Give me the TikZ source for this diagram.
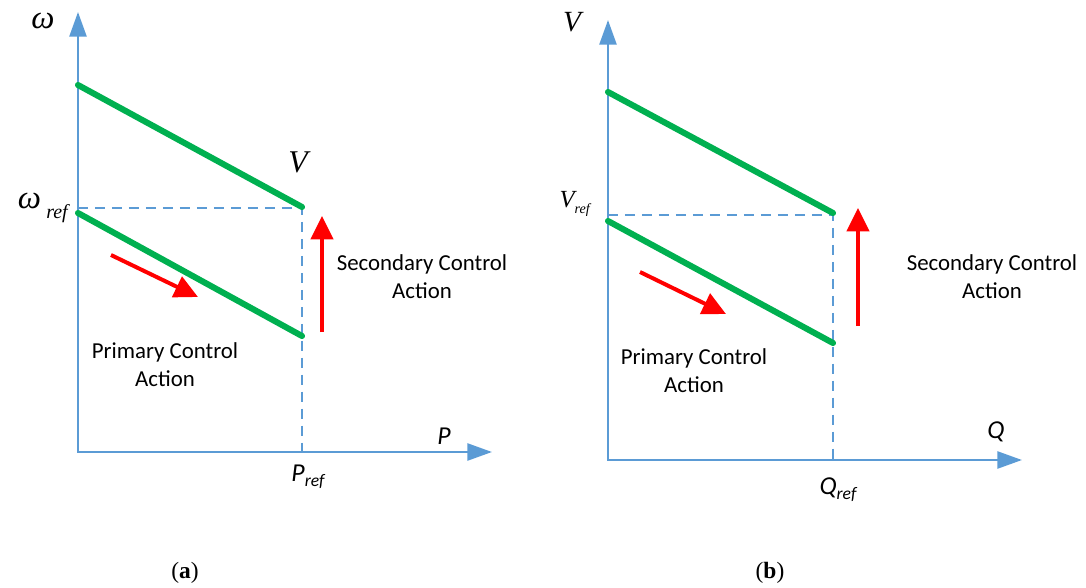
\documentclass[tikz,border=0pt]{standalone}
\usepackage{fontspec}
\setmainfont{Carlito}
\newfontfamily\serifit{Liberation Serif}
\definecolor{axisblue}{RGB}{91, 155, 213}
\definecolor{droopgreen}{RGB}{0, 176, 80}
\definecolor{actionred}{RGB}{255, 0, 0}
\usetikzlibrary{arrows.meta, positioning}

\tikzset{
    axisline/.style={draw=axisblue, line width=2.1pt, {Triangle[length=21pt, width=14.5pt]}-{Triangle[length=21pt, width=14.5pt]}},
    guide/.style={draw=axisblue, line width=1.6pt, dash pattern=on 8.5pt off 6pt},
    droop/.style={draw=droopgreen, line width=5.2pt, line cap=round},
    actionarrow/.style={draw=actionred, line width=3.4pt, -{Triangle[length=20pt, width=19pt]}},
    note/.style={font=\fontsize{19.5}{24}\selectfont, align=center},
    varlabel/.style={font=\fontsize{22}{24}\selectfont\itshape, inner sep=0pt},
    greeklabel/.style={font=\fontsize{28}{30}\selectfont\serifit\itshape, inner sep=0pt},
    caption/.style={font=\fontsize{20}{24}\selectfont\serifit},
}

\begin{document}
\begin{tikzpicture}[x=0.03cm, y=-0.03cm]
    \useasboundingbox (0,0) rectangle (1086,588);

    % (a) frequency droop
    \coordinate (wtop) at (78,12);
    \coordinate (pend) at (492,452);
    \coordinate (whigh) at (78,85);
    \coordinate (wlow) at (78,213);
    \coordinate (wref) at (78,208);
    \coordinate (aup) at (302,207);
    \coordinate (adown) at (302,336);
    \coordinate (aref) at (302,208);
    \coordinate (pref) at (302,452);
    \draw[axisline] (wtop) |- (pend);
    \draw[guide] (wref) -- (aref) -- (pref);
    \draw[droop] (whigh) -- (aup);
    \draw[droop] (wlow) -- (adown);
    \coordinate (aprimA) at (111,255);
    \coordinate (aprimB) at (198,297);
    \coordinate (asecA) at (322,332);
    \coordinate (asecB) at (322,216);
    \draw[actionarrow] (aprimA) -- (aprimB);
    \draw[actionarrow] (asecA) -- (asecB);

    \node[greeklabel] (lw) at (43,21) {ω};
    \node[greeklabel, anchor=east] (lwref) at (68,208) {ω\,\raisebox{-8pt}{\fontsize{17}{17}\selectfont ref}};
    \node[greeklabel, font=\fontsize{27}{28}\selectfont\serifit\itshape] (lva) at (298,162) {V};
    \node[varlabel] (lp) at (444,436) {P};
    \node[varlabel] (lpref) at (308,477) {P\raisebox{-4pt}{\fontsize{15}{15}\selectfont ref}};
    \node[note] (secA) at (422,277) {Secondary Control\\Action};
    \node[note] (primA) at (165,365) {Primary Control\\Action};
    \node[caption] (capa) at (185,573) {(\textbf{a})};

    % (b) voltage droop
    \coordinate (vtop) at (608,20);
    \coordinate (qend) at (1022,460);
    \coordinate (vhigh) at (608,92);
    \coordinate (vlow) at (608,221);
    \coordinate (vref) at (608,215);
    \coordinate (bup) at (833,213);
    \coordinate (bdown) at (833,343);
    \coordinate (bref) at (833,215);
    \coordinate (qref) at (833,460);
    \draw[axisline] (vtop) |- (qend);
    \draw[guide] (vref) -- (bref) -- (qref);
    \draw[droop] (vhigh) -- (bup);
    \draw[droop] (vlow) -- (bdown);
    \coordinate (bprimA) at (640,272);
    \coordinate (bprimB) at (726,314);
    \coordinate (bsecA) at (858,326);
    \coordinate (bsecB) at (858,208);
    \draw[actionarrow] (bprimA) -- (bprimB);
    \draw[actionarrow] (bsecA) -- (bsecB);

    \node[greeklabel, font=\fontsize{25}{28}\selectfont\serifit\itshape] (lv) at (572,22) {V};
    \node[greeklabel, anchor=east, font=\fontsize{21}{24}\selectfont\serifit\itshape] (lvref) at (590,204) {V\raisebox{-5pt}{\fontsize{12}{12}\selectfont ref}};
    \node[varlabel] (lq) at (996,432) {Q};
    \node[varlabel] (lqref) at (838,490) {Q\raisebox{-4pt}{\fontsize{15}{15}\selectfont ref}};
    \node[note] (secB) at (992,277) {Secondary Control\\Action};
    \node[note] (primB) at (694,371) {Primary Control\\Action};
    \node[caption] (capb) at (770,573) {(\textbf{b})};
\end{tikzpicture}
\end{document}
